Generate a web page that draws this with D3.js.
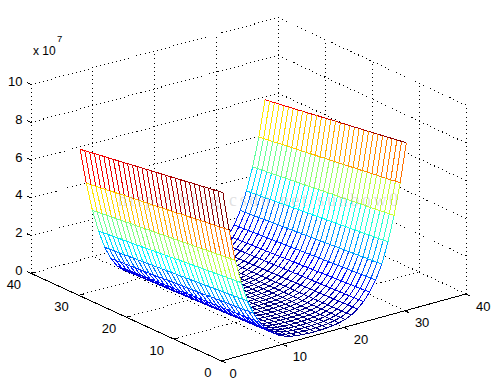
<!DOCTYPE html>
<html>
<head>
    <meta charset="UTF-8">
    <title>Mesh plot</title>
    <script src="https://d3js.org/d3.v7.min.js"></script>
    <style>
        html, body { margin: 0; padding: 0; background: #fff; }
        svg { display: block; }
        text { font-family: "Liberation Sans", Arial, sans-serif; fill: #000; }
    </style>
</head>
<body>
    <div id="chart-container"></div>
    <script>
        // Tick values, z is in units of 10^7
        var xTicks = [0, 10, 20, 30, 40];
        var yTicks = [0, 10, 20, 30, 40];
        var zTicks = [0, 2, 4, 6, 8, 10];

        // Mesh grid positions
        var xGrid = [1, 2, 3, 4, 5, 6, 7, 8, 9, 10, 11, 12, 13, 14, 15, 16, 17, 18, 19, 20, 21, 22, 23, 24, 25, 26, 27, 28, 29, 30, 31];
        var yGrid = [1, 2, 3, 4, 5, 6, 7, 8, 9, 10, 11, 12, 13, 14, 15, 16, 17, 18, 19, 20, 21, 22, 23, 24, 25, 26, 27, 28, 29, 30, 31];

        // Height along the front edge (y = 1) and the back edge (y = 31)
        var zFront = [8.72, 6.65, 4.95, 3.68, 2.62, 1.88, 1.31, 0.90, 0.60, 0.38, 0.23, 0.13, 0.07, 0.04, 0.02, 0.01, 0.02, 0.04, 0.07, 0.13, 0.22, 0.36, 0.60, 0.90, 1.31, 1.87, 2.62, 3.71, 5.02, 6.66, 8.69];
        var zBack = [7.53, 5.65, 4.12, 2.93, 1.98, 1.30, 0.82, 0.52, 0.30, 0.16, 0.07, 0.03, 0.01, 0.00, 0.00, 0.00, 0.00, 0.00, 0.01, 0.03, 0.07, 0.16, 0.30, 0.52, 0.82, 1.30, 1.98, 2.93, 4.11, 5.61, 7.49];

        // How far each row has dropped from the front edge to the back edge
        var yDrop = [0, 0.03, 0.07, 0.10, 0.13, 0.17, 0.20, 0.23, 0.27, 0.30, 0.33, 0.37, 0.40, 0.43, 0.47, 0.50, 0.53, 0.57, 0.60, 0.63, 0.67, 0.70, 0.73, 0.77, 0.80, 0.83, 0.87, 0.90, 0.93, 0.97, 1];

        var width = 494;
        var height = 380;

        // Oblique projection of the 3D box, one scale per screen direction
        var xToLeft = d3.scaleLinear().domain([0, 40]).range([221.5, 466]);
        var yToLeft = d3.scaleLinear().domain([0, 40]).range([0, -190.4]);
        var xToTop = d3.scaleLinear().domain([0, 40]).range([361, 294]);
        var yToTop = d3.scaleLinear().domain([0, 40]).range([0, -87.6]);
        var zToTop = d3.scaleLinear().domain([0, 10]).range([0, -188.8]);
        var skew = 0.00163;

        function project(x, y, z) {
            return [
                xToLeft(x) + yToLeft(y) + skew * x * y,
                xToTop(x) + yToTop(y) + zToTop(z)
            ];
        }

        // Jet colormap over the height range
        var zMax = d3.max(zFront);
        var jet = d3.scaleLinear()
            .domain([0, 0.125 * zMax, 0.375 * zMax, 0.625 * zMax, 0.875 * zMax, zMax])
            .range(["#000080", "#0000ff", "#00ffff", "#ffff00", "#ff0000", "#800000"])
            .clamp(true);

        var svg = d3.select("#chart-container")
            .append("svg")
            .attr("width", width)
            .attr("height", height);

        var line = d3.line();

        function addLine(group, a, b) {
            return group.append("path").attr("d", line([a, b]));
        }

        // Dotted grid on the floor and the two back walls
        var grid = svg.append("g")
            .attr("fill", "none")
            .attr("stroke", "#000")
            .attr("stroke-dasharray", "1 3.2")
            .attr("shape-rendering", "crispEdges");

        xTicks.forEach(function(x) {
            if (x > 0) addLine(grid, project(x, 0, 0), project(x, 40, 0));
            addLine(grid, project(x, 40, 0), project(x, 40, 10));
        });
        yTicks.forEach(function(y) {
            if (y > 0) addLine(grid, project(0, y, 0), project(40, y, 0));
            addLine(grid, project(40, y, 0), project(40, y, 10));
        });
        zTicks.forEach(function(z) {
            if (z > 0) {
                addLine(grid, project(0, 40, z), project(40, 40, z));
                addLine(grid, project(40, 40, z), project(40, 0, z));
            }
        });

        // Axis lines and tick marks
        var axes = svg.append("g")
            .attr("fill", "none")
            .attr("stroke", "#000")
            .attr("shape-rendering", "crispEdges");

        addLine(axes, project(0, 0, 0), project(40, 0, 0));
        addLine(axes, project(0, 0, 0), project(0, 40, 0));
        xTicks.forEach(function(x) {
            addLine(axes, project(x, 0, 0), project(x, -0.9, 0));
        });
        yTicks.forEach(function(y) {
            addLine(axes, project(0, y, 0), project(0.7, y, 0));
        });
        zTicks.forEach(function(z) {
            addLine(axes, project(0, 40, z), project(0, 40.9, z));
        });

        // Height table built from the edge readings
        var zTable = yGrid.map(function(y, j) {
            return xGrid.map(function(x, i) {
                return zFront[i] - (zFront[i] - zBack[i]) * yDrop[j];
            });
        });

        // Mesh cells, far ones first so the white faces hide what is behind them
        var cells = [];
        d3.range(yGrid.length - 2, -1, -1).forEach(function(j) {
            d3.range(xGrid.length - 2, -1, -1).forEach(function(i) {
                cells.push({ i: i, j: j });
            });
        });

        function corner(i, j) {
            return project(xGrid[i], yGrid[j], zTable[j][i]);
        }

        var mesh = svg.append("g")
            .attr("shape-rendering", "crispEdges");

        var cell = mesh.selectAll("g")
            .data(cells)
            .enter()
            .append("g");

        cell.append("path")
            .attr("fill", "#fff")
            .attr("d", function(d) {
                return line([corner(d.i, d.j), corner(d.i + 1, d.j), corner(d.i + 1, d.j + 1), corner(d.i, d.j + 1)]) + "Z";
            });

        // Each edge takes the colour of its first vertex
        function drawEdge(fromOffset, toOffset) {
            cell.append("path")
                .attr("fill", "none")
                .attr("d", function(d) {
                    return line([
                        corner(d.i + fromOffset[0], d.j + fromOffset[1]),
                        corner(d.i + toOffset[0], d.j + toOffset[1])
                    ]);
                })
                .attr("stroke", function(d) {
                    return jet(zTable[d.j + fromOffset[1]][d.i + fromOffset[0]]);
                });
        }
        drawEdge([0, 1], [1, 1]);
        drawEdge([1, 0], [1, 1]);
        drawEdge([0, 0], [1, 0]);
        drawEdge([0, 0], [0, 1]);

        // Tick labels
        var labels = svg.append("g").attr("font-size", "13px");

        labels.selectAll(".xlabel")
            .data(xTicks)
            .enter()
            .append("text")
            .attr("class", "xlabel")
            .attr("x", function(d) { return project(d, 0, 0)[0] + (d === 0 ? 8 : 10); })
            .attr("y", function(d) { return project(d, 0, 0)[1] + 16.5; })
            .text(function(d) { return d; });

        labels.selectAll(".ylabel")
            .data(yTicks)
            .enter()
            .append("text")
            .attr("class", "ylabel")
            .attr("text-anchor", "end")
            .attr("x", function(d) { return project(0, d, 0)[0] - 10; })
            .attr("y", function(d) { return project(0, d, 0)[1] + 15.5; })
            .text(function(d) { return d; });

        labels.selectAll(".zlabel")
            .data(zTicks)
            .enter()
            .append("text")
            .attr("class", "zlabel")
            .attr("text-anchor", "end")
            .attr("x", 22.5)
            .attr("y", function(d) { return project(0, 40, d)[1] + 1.5; })
            .text(function(d) { return d; });

        // Exponent above the z axis
        labels.append("text").attr("x", 33).attr("y", 55).attr("font-size", "12px").text("x 10");
        labels.append("text").attr("x", 57).attr("y", 42).attr("font-size", "9.5px").text("7");

        // Faint blog address stamped over the picture
        svg.append("text")
            .attr("x", 118)
            .attr("y", 206)
            .attr("textLength", 280)
            .attr("font-size", "18px")
            .style("font-family", "'Liberation Serif', serif")
            .style("fill", "#999")
            .attr("fill-opacity", 0.3)
            .text("http://blog.csdn.net/sunbow0");
    </script>
</body>
</html>
